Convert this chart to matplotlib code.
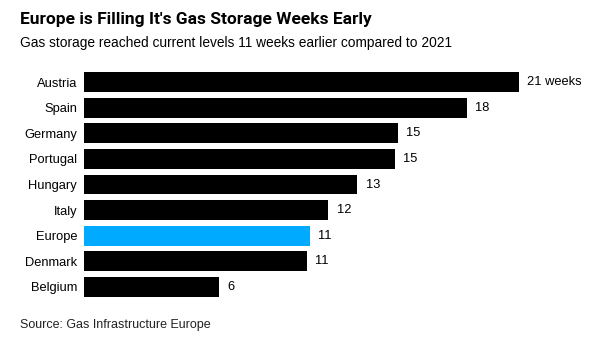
import matplotlib.pyplot as plt

plt.rcParams['font.family'] = ['Liberation Sans', 'DejaVu Sans']

countries = ["Austria", "Spain", "Germany", "Portugal", "Hungary",
             "Italy", "Europe", "Denmark", "Belgium"]
weeks = [21.0, 18.5, 15.15, 15.0, 13.2, 11.8, 10.9, 10.75, 6.5]
labels = ["21 weeks", "18", "15", "15", "13", "12", "11", "11", "6"]

colors = ['#00aaff' if c == "Europe" else 'black' for c in countries]

fig = plt.figure(figsize=(5.96, 3.45), dpi=100)
ax = fig.add_axes([84 / 596, 1 - 299.8 / 345, 435 / 596, 230.6 / 345])

y = range(len(countries))
ax.barh(y, weeks, height=0.78, color=colors)
ax.set_xlim(0, 21)
ax.set_ylim(len(countries) - 0.5, -0.5)

for i, (w, lab) in enumerate(zip(weeks, labels)):
    ax.text(w + 0.4, i, lab, va='center', ha='left', fontsize=9.3, clip_on=False)

ax.set_yticks(list(y))
ax.set_yticklabels(countries, fontsize=9.3)
ax.tick_params(axis='y', length=0, pad=5)
ax.set_xticks([])
for s in ax.spines.values():
    s.set_visible(False)

fig.text(20 / 596, 1 - 19.5 / 345, "Europe is Filling It's Gas Storage Weeks Early",
         fontsize=12.5, fontweight='bold', va='center', ha='left', family='Roboto')
fig.text(20 / 596, 1 - 43 / 345, "Gas storage reached current levels 11 weeks earlier compared to 2021",
         fontsize=9.9, va='center', ha='left')
fig.text(20 / 596, 1 - 325 / 345, "Source: Gas Infrastructure Europe",
         fontsize=9, va='center', ha='left', color='#222222')

plt.savefig("out.png", dpi=100)
